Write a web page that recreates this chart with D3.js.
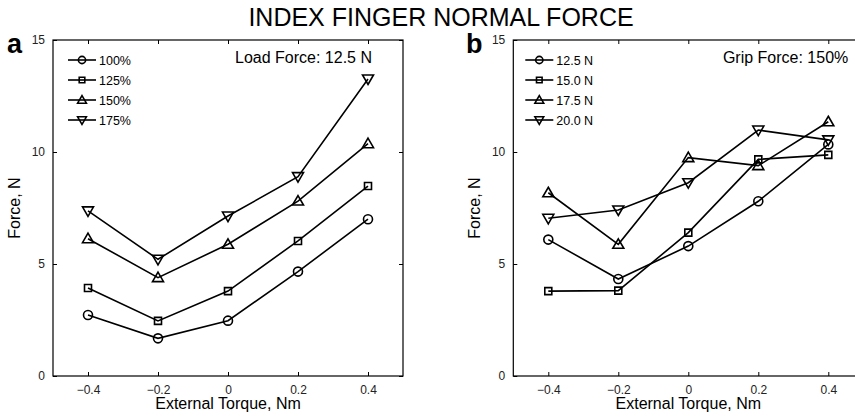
<!DOCTYPE html>
<html>
<head>
<meta charset="utf-8">
<script src="https://cdn.jsdelivr.net/npm/d3@7"></script>
<style>
  body { margin: 0; background: #fff; }
  svg { display: block; font-family: "Liberation Sans", Arial, sans-serif; }
</style>
</head>
<body>
<div id="chart"></div>
<script>
// shared x values
var torque = [-0.4, -0.2, 0, 0.2, 0.4];
var xTicks = [-0.4, -0.2, 0, 0.2, 0.4];
var yTicks = [0, 5, 10, 15];

// panel a: grip force levels, load force 12.5 N
var gripLabels = ["100%", "125%", "150%", "175%"];
var grip100 = [2.72, 1.68, 2.47, 4.66, 7.0];
var grip125 = [3.93, 2.46, 3.79, 6.03, 8.48];
var grip150 = [6.13, 4.39, 5.88, 7.81, 10.37];
var grip175 = [7.37, 5.21, 7.14, 8.90, 13.26];

// panel b: load force levels, grip force 150%
var loadLabels = ["12.5 N", "15.0 N", "17.5 N", "20.0 N"];
var load125 = [6.09, 4.33, 5.80, 7.80, 10.34];
var load150 = [3.79, 3.81, 6.40, 9.67, 9.87];
var load175 = [8.18, 5.88, 9.75, 9.39, 11.35];
var load200 = [7.04, 7.41, 8.63, 10.98, 10.54];

var markerTypes = ["circle", "square", "triUp", "triDown"];

var width = 855, height = 417;

var svg = d3.select("#chart")
    .append("svg")
    .attr("width", width)
    .attr("height", height);

svg.append("text")
    .attr("x", 441)
    .attr("y", 26)
    .attr("text-anchor", "middle")
    .attr("font-size", 25)
    .text("INDEX FINGER NORMAL FORCE");

function markerPath(type) {
    if (type == "circle") return "M4.5,0A4.5,4.5 0 1,1 -4.5,0A4.5,4.5 0 1,1 4.5,0Z";
    if (type == "square") return "M-3.5,-3.5H3.5V3.5H-3.5Z";
    if (type == "triUp") return "M0,-5.5L5.5,4L-5.5,4Z";
    return "M0,5.5L5.5,-4L-5.5,-4Z";
}

function drawPanel(settings) {
    var left = settings.left, top = 40, plotW = 350, plotH = 336;
    var g = svg.append("g").attr("transform", "translate(" + left + "," + top + ")");

    var x = d3.scaleLinear().domain([-0.5, 0.5]).range([0, plotW]);
    var y = d3.scaleLinear().domain([0, 15]).range([plotH, 0]);

    // box
    g.append("rect")
        .attr("width", plotW)
        .attr("height", plotH)
        .attr("fill", "none")
        .attr("stroke", "#000")
        .attr("stroke-width", 1.2);

    // inward ticks on all four sides
    var tickLen = 4;
    g.append("g").attr("transform", "translate(0," + plotH + ")")
        .call(d3.axisBottom(x).tickValues(xTicks).tickSizeInner(-tickLen).tickSizeOuter(0).tickPadding(9)
            .tickFormat(d => d == 0 ? "0" : d3.format(".1f")(d).replace("-", "\u2212")));
    g.append("g")
        .call(d3.axisTop(x).tickValues(xTicks).tickSizeInner(-tickLen).tickSizeOuter(0).tickFormat(""));
    g.append("g")
        .call(d3.axisLeft(y).tickValues(yTicks).tickSizeInner(-tickLen).tickSizeOuter(0).tickPadding(8));
    g.append("g").attr("transform", "translate(" + plotW + ",0)")
        .call(d3.axisRight(y).tickValues(yTicks).tickSizeInner(-tickLen).tickSizeOuter(0).tickFormat(""));

    g.selectAll(".domain").remove();
    g.selectAll(".tick line").attr("stroke", "#000").attr("stroke-width", 1);
    g.selectAll(".tick text")
        .attr("font-family", "Liberation Sans, Arial, sans-serif")
        .attr("font-size", 12)
        .attr("fill", "#222");

    // lines and markers
    var line = d3.line()
        .x((d, i) => x(torque[i]))
        .y(d => y(d));

    settings.series.forEach(function (s, k) {
        g.append("path")
            .datum(s)
            .attr("d", line)
            .attr("fill", "none")
            .attr("stroke", "#000")
            .attr("stroke-width", 1.6);
        g.selectAll(null)
            .data(s)
            .enter()
            .append("path")
            .attr("transform", (d, i) => "translate(" + x(torque[i]) + "," + y(d) + ")")
            .attr("d", markerPath(markerTypes[k]))
            .attr("fill", "none")
            .attr("stroke", "#000")
            .attr("stroke-width", 1.6);
    });

    // legend
    var lg = g.append("g").attr("transform", "translate(" + settings.legendX + ",0)");
    settings.labels.forEach(function (lab, k) {
        var ly = 20 + k * 20;
        lg.append("line")
            .attr("x1", 0).attr("x2", 28)
            .attr("y1", ly).attr("y2", ly)
            .attr("stroke", "#000").attr("stroke-width", 1.6);
        lg.append("path")
            .attr("transform", "translate(14," + ly + ") scale(0.8)")
            .attr("d", markerPath(markerTypes[k]))
            .attr("fill", "none")
            .attr("stroke", "#000")
            .attr("stroke-width", 2);
        lg.append("text")
            .attr("x", settings.legendTextX)
            .attr("y", ly + 4.5)
            .attr("font-size", 12.5)
            .text(lab);
    });

    g.append("text")
        .attr("x", settings.noteX)
        .attr("y", 23)
        .attr("text-anchor", "end")
        .attr("font-size", 16)
        .text(settings.note);

    // axis titles
    g.append("text")
        .attr("x", plotW / 2)
        .attr("y", plotH + 33)
        .attr("text-anchor", "middle")
        .attr("font-size", 16)
        .text("External Torque, Nm");
    g.append("text")
        .attr("transform", "translate(-33," + (plotH / 2) + ") rotate(-90)")
        .attr("text-anchor", "middle")
        .attr("font-size", 16)
        .text("Force, N");

    svg.append("text")
        .attr("x", settings.letterX)
        .attr("y", 53)
        .attr("font-size", 27)
        .attr("font-weight", "bold")
        .text(settings.letter);
}

drawPanel({
    left: 53,
    series: [grip100, grip125, grip150, grip175],
    labels: gripLabels,
    legendX: 15,
    legendTextX: 31,
    note: "Load Force: 12.5 N",
    noteX: 319,
    letter: "a",
    letterX: 7
});

drawPanel({
    left: 513.3,
    series: [load125, load150, load175, load200],
    labels: loadLabels,
    legendX: 12,
    legendTextX: 31,
    note: "Grip Force: 150%",
    noteX: 335,
    letter: "b",
    letterX: 466
});
</script>
</body>
</html>
